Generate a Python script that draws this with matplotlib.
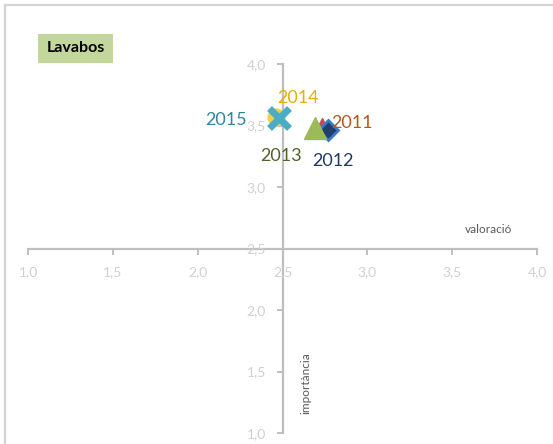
import matplotlib
matplotlib.use("Agg")
import matplotlib.pyplot as plt
from matplotlib.lines import Line2D

plt.rcParams['font.family'] = ['Lato', 'DejaVu Sans']

years = ["2011", "2012", "2013", "2014", "2015"]
valoracio = [2.73, 2.77, 2.69, 2.46, 2.48]
importancia = [3.49, 3.46, 3.48, 3.57, 3.56]
x_ticks = [1.0, 1.5, 2.0, 2.5, 3.0, 3.5, 4.0]
y_ticks = [1.0, 1.5, 2.0, 2.5, 3.0, 3.5, 4.0]
title = "Lavabos"

markers = ['^', 'D', '^', 'o', 'x']
face = ['#C0504D', '#1F3F6E', '#9BBB59', '#F5CF4A', '#4BACC6']
edge = ['#C0504D', '#3C78C8', '#9BBB59', '#F5CF4A', '#4BACC6']
sizes = [13, 10, 16, 12, 14]
mew = [1, 2, 1, 1, 5]
label_colors = ['#B5561A', '#1F3864', '#4F6228', '#E2B007', '#31859C']
label_offsets = [(30, 4), (5, -31), (-34, -28), (22, 19), (-53, -2)]

fig = plt.figure(figsize=(5.53, 4.44), dpi=100)
ax = fig.add_axes([28/553, 1-433/444, (537-28)/553, (433-64)/444])
ax.set_xlim(1.0, 4.0)
ax.set_ylim(1.0, 4.0)

for i, yr in enumerate(years):
    ax.plot([valoracio[i]], [importancia[i]], linestyle='none', marker=markers[i],
            ms=sizes[i], mfc=face[i], mec=edge[i], mew=mew[i], zorder=3 + i, clip_on=False)
    ax.annotate(yr, (valoracio[i], importancia[i]), xytext=label_offsets[i],
                textcoords='offset pixels', ha='center', va='center',
                fontsize=13, color=label_colors[i], zorder=10)

for s in ['top', 'right']:
    ax.spines[s].set_visible(False)
ax.spines['left'].set_position(('data', 2.5))
ax.spines['bottom'].set_position(('data', 2.5))
for s in ['left', 'bottom']:
    ax.spines[s].set_color('#BFBFBF')
    ax.spines[s].set_linewidth(1.6)
    ax.spines[s].set_zorder(1)

ax.set_xticks(x_ticks)
ax.set_yticks(y_ticks)
fmt = lambda v: f"{v:.1f}".replace('.', ',')
ax.set_xticklabels([fmt(v) for v in x_ticks])
ax.set_yticklabels([fmt(v) for v in y_ticks])
ax.tick_params(axis='both', direction='out', length=4, width=1.4, color='#BFBFBF',
               labelcolor='#D0D0D0', labelsize=10)
ax.tick_params(axis='x', pad=9)
ax.tick_params(axis='y', pad=8)

ax.text(489, 444-229, "valoració", transform=None, fontsize=8.5, color='#595959',
        ha='center', va='center')
fig.text(306/553, 1-383/444, "importància", rotation=90, fontsize=8.5, color='#595959',
         ha='center', va='center')

fig.text(75.5/553, 1-48.5/444, title, fontsize=11.5, fontweight='bold', color='black',
         ha='center', va='center',
         bbox=dict(boxstyle='square,pad=0.5', fc='#C3D69B', ec='none'))

fig.add_artist(Line2D([4.5/553, 4.5/553], [0, 1-5/444], color='#D4D4D4', lw=1.6,
                      transform=fig.transFigure))
fig.add_artist(Line2D([4.5/553, 1], [1-5/444, 1-5/444], color='#D4D4D4', lw=1.6,
                      transform=fig.transFigure))

fig.savefig("out.png", dpi=100)
